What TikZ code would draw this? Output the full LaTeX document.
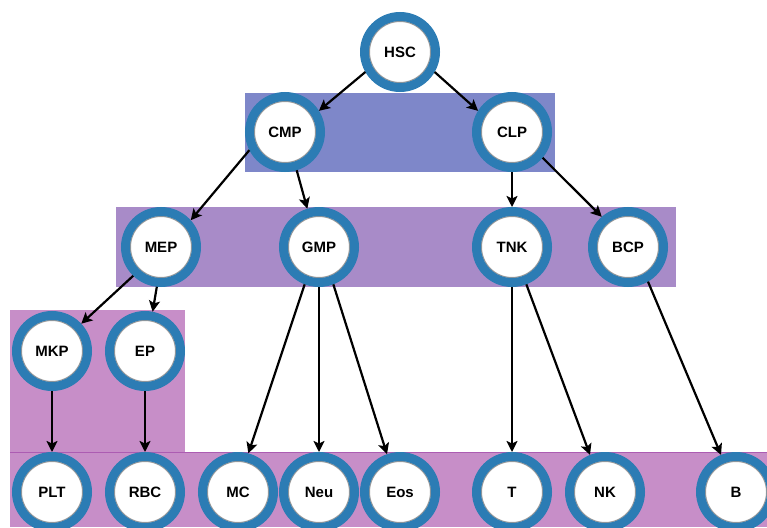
\documentclass[tikz,border=0pt]{standalone}
\usepackage{fontspec}
\setsansfont{Liberation Sans}
\usetikzlibrary{arrows.meta}
\definecolor{ringblue}{RGB}{44,124,180}
\definecolor{bandblue}{RGB}{126,135,201}
\definecolor{bandviolet}{RGB}{168,139,200}
\definecolor{bandpink}{RGB}{199,142,200}
\definecolor{bandedge}{RGB}{172,92,178}
\tikzset{
  cell/.style={circle, minimum size=71pt, inner sep=0pt, outer sep=4.5pt,
    fill=white, draw=ringblue, line width=9pt,
    font=\sffamily\bfseries\fontsize{15}{15}\selectfont,
    path picture={\draw[black!40, line width=1.2pt]
      (path picture bounding box.center) circle (30.6pt);}},
  link/.style={line width=2.2pt, -{Stealth[length=11pt,width=11pt,inset=2.5pt]}},
}
\begin{document}
\begin{tikzpicture}[x=1pt,y=-1pt]
  \useasboundingbox (0,0) rectangle (767,527);
  \clip (0,0) rectangle (767,527);
  % coloured bands behind each generation
  \fill[bandblue]   (245,93)  rectangle (555,172);
  \fill[bandviolet] (116,207) rectangle (676,287);
  \fill[bandpink]   (10,310)  rectangle (185,452);
  \fill[bandpink]   (10,452)  rectangle (767,527);
  \draw[bandedge, line width=0.8pt] (10,452) -- (767,452);
  % cells
  \node[cell] (HSC) at (400,52)  {HSC};
  \node[cell] (CMP) at (285,132) {CMP};
  \node[cell] (CLP) at (512,132) {CLP};
  \node[cell] (MEP) at (161,247) {MEP};
  \node[cell] (GMP) at (319,247) {GMP};
  \node[cell] (TNK) at (512,247) {TNK};
  \node[cell] (BCP) at (628,247) {BCP};
  \node[cell] (MKP) at (52,351)  {MKP};
  \node[cell] (EP)  at (145,351) {EP};
  \node[cell] (PLT) at (52,492)  {PLT};
  \node[cell] (RBC) at (145,492) {RBC};
  \node[cell] (MC)  at (238,492) {MC};
  \node[cell] (Neu) at (319,492) {Neu};
  \node[cell] (Eos) at (400,492) {Eos};
  \node[cell] (T)   at (512,492) {T};
  \node[cell] (NK)  at (605,492) {NK};
  \node[cell] (B)   at (736,492) {B};
  % lineage arrows
  \draw[link] (HSC.210) -- (CMP.32);
  \draw[link] (HSC.330) -- (CLP.148);
  \draw[link] (CMP.207) -- (MEP.42);
  \draw[link] (CMP.287) -- (GMP.107);
  \draw[link] (CLP.270) -- (TNK.90);
  \draw[link] (CLP.320) -- (BCP.131);
  \draw[link] (MEP.226) -- (MKP.43);
  \draw[link] (MEP.264) -- (EP.79);
  \draw[link] (MKP.270) -- (PLT.90);
  \draw[link] (EP.270)  -- (RBC.90);
  \draw[link] (GMP.249) -- (MC.75);
  \draw[link] (GMP.270) -- (Neu.90);
  \draw[link] (GMP.291) -- (Eos.109);
  \draw[link] (TNK.270) -- (T.90);
  \draw[link] (TNK.291) -- (NK.112);
  \draw[link] (BCP.300) -- (B.112);
\end{tikzpicture}
\end{document}
